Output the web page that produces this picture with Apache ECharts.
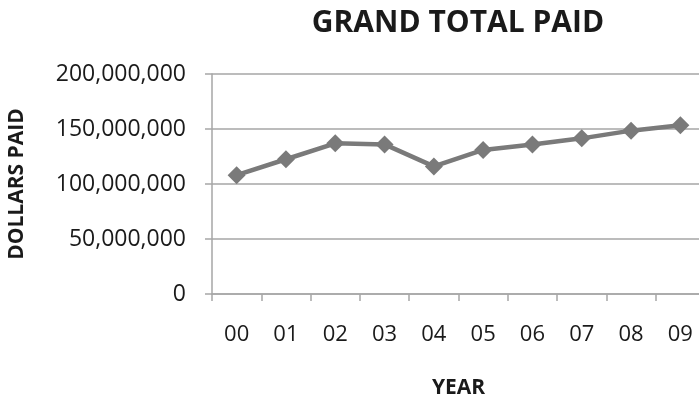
<!DOCTYPE html>
<html><head><meta charset="utf-8">
<script src="https://cdn.jsdelivr.net/npm/echarts@6/dist/echarts.min.js"></script>
<style>html,body{margin:0;padding:0;background:#fff}#c{width:699px;height:400px}</style>
</head><body><div id="c"></div>
<script>
const categories = ['00','01','02','03','04','05','06','07','08','09'];
const values = [108000000,122500000,137000000,136000000,116000000,131000000,136000000,141500000,148500000,153500000];
const yTicks = [0,50000000,100000000,150000000,200000000];
const titleText = 'GRAND TOTAL PAID';
const xName = 'YEAR';
const yName = 'DOLLARS PAID';

const FONT = '"Open Sans", sans-serif';
const chart = echarts.init(document.getElementById('c'), null, {renderer:'canvas'});
chart.setOption({
  animation:false,
  backgroundColor:'#fff',
  title:{text:titleText,left:453,top:3,textAlign:'center',
    textStyle:{fontFamily:FONT,fontWeight:'bold',fontSize:30,color:'#1a1a1a'}},
  grid:{left:212,top:74,width:493,height:220,containLabel:false,outerBoundsMode:'none'},
  xAxis:{type:'category',data:categories,boundaryGap:true,
    name:xName,nameLocation:'middle',nameGap:84,
    nameTextStyle:{fontFamily:FONT,fontWeight:'bold',fontSize:21,color:'#1a1a1a'},
    axisLine:{lineStyle:{color:'#a6a6a6',width:1.5}},
    axisTick:{show:true,length:7,alignWithLabel:false,lineStyle:{color:'#a6a6a6',width:1.5}},
    axisLabel:{fontFamily:FONT,fontSize:22,color:'#1a1a1a',margin:30}},
  yAxis:{type:'value',min:yTicks[0],max:yTicks[yTicks.length-1],interval:yTicks[1]-yTicks[0],
    name:yName,nameLocation:'middle',nameGap:184,nameRotate:90,
    nameTextStyle:{fontFamily:FONT,fontWeight:'bold',fontSize:21,color:'#1a1a1a'},
    axisLine:{show:true,lineStyle:{color:'#a6a6a6',width:1.5}},
    axisTick:{show:true,length:7,lineStyle:{color:'#a6a6a6',width:1.5}},
    splitLine:{lineStyle:{color:'#a6a6a6',width:1.5}},
    axisLabel:{fontFamily:FONT,fontSize:23,color:'#1a1a1a',margin:26,
      formatter:v=>v.toLocaleString('en-US')}},
  series:[{type:'line',data:values,symbol:'diamond',symbolSize:18,
    lineStyle:{color:'#7a7a7a',width:4.5},itemStyle:{color:'#7a7a7a'}}]
});
</script></body></html>
